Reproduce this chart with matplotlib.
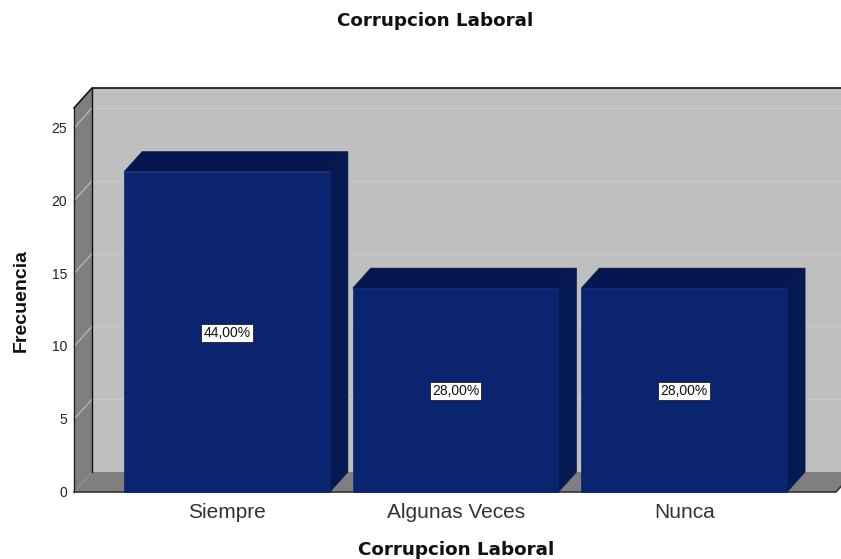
import matplotlib
matplotlib.use('Agg')
import matplotlib.pyplot as plt
from matplotlib.patches import Polygon

plt.rcParams['font.family'] = ['Liberation Sans', 'DejaVu Sans']

categories = ["Siempre", "Algunas Veces", "Nunca"]
frequency = [22, 14, 14]
percent_labels = ["44,00%", "28,00%", "28,00%"]
y_ticks = [0, 5, 10, 15, 20, 25]

W, H = 841, 559
fig = plt.figure(figsize=(W / 100, H / 100), dpi=100)

# axes box in pixels: front plane of the 3D box
left, right, bottom, top = 74, 841, 492, 108
ax = fig.add_axes([left / W, 1 - bottom / H, (right - left) / W, (bottom - top) / H])
spacing = 228.6
ax.set_xlim((left - 227) / spacing, (right - 227) / spacing)
ax.set_ylim(0, (bottom - top) / 14.56)
ax.axis('off')

# depth of the box, in data units
dx = 18 / spacing
dy = 20 / 14.56
x0, x1 = ax.get_xlim()
y1 = ax.get_ylim()[1]
x_floor_end = x0 + (836 - left) / spacing


def poly(points, color, z=1, edge='none', lw=0):
    ax.add_patch(Polygon(points, closed=True, facecolor=color, edgecolor=edge,
                         linewidth=lw, zorder=z, clip_on=False))


# back wall, left wall, floor
poly([(x0 + dx, dy), (x1 + dx, dy), (x1 + dx, y1 + dy), (x0 + dx, y1 + dy)], '#bfbfbf', 1)
poly([(x0, 0), (x0 + dx, dy), (x0 + dx, y1 + dy), (x0, y1)], '#7f7f7f', 1)
poly([(x0, 0), (x_floor_end, 0), (x_floor_end + dx, dy), (x0 + dx, dy)], '#7f7f7f', 2)

# grid lines
for t in y_ticks[1:]:
    ax.plot([x0, x0 + dx], [t, t + dy], color='#b4b4b4', lw=1, zorder=1.5, clip_on=False)
    ax.plot([x0 + dx, x1], [t + dy, t + dy], color='#c9c9c9', lw=1, zorder=1.5, clip_on=False)

# box outline
ax.plot([x0, x0 + dx, x1], [y1, y1 + dy, y1 + dy], color='#111111', lw=1.2, zorder=3, clip_on=False)
ax.plot([x0, x0], [0, y1], color='#222222', lw=1, zorder=3, clip_on=False)
ax.plot([x0 + dx, x0 + dx], [dy, y1 + dy], color='#111111', lw=1, zorder=3, clip_on=False)
ax.plot([x0, x_floor_end, x_floor_end + dx], [0, 0, dy], color='#333333', lw=1.2, zorder=3, clip_on=False)

# bars
bar_width = 0.9
bar_color = '#0a2470'
top_color = '#06174f'
side_color = '#041a50'
positions = list(range(len(categories)))
ax.bar(positions, frequency, width=bar_width, color=bar_color, edgecolor=bar_color, linewidth=0.5,
       zorder=6, clip_on=False)
for i, v in enumerate(frequency):
    a = i - bar_width / 2
    b = i + bar_width / 2
    poly([(a, v), (b, v), (b + dx, v + dy), (a + dx, v + dy)], top_color, 5, edge=top_color, lw=0.5)
    poly([(b, 0), (b + dx, dy), (b + dx, v + dy), (b, v)], side_color, 5, edge=side_color, lw=0.5)
    ax.annotate(percent_labels[i], xy=(i, v / 2), xytext=(0, -1), textcoords='offset pixels',
                ha='center', va='center', fontsize=10, color='#111111', zorder=7,
                bbox=dict(facecolor='white', edgecolor='#222222', linewidth=0.6, boxstyle='square,pad=0.15'))

# tick labels
for t in y_ticks:
    ax.annotate(str(t), xy=(x0, t), xytext=(-7, -1), textcoords='offset pixels', ha='right', va='center',
                fontsize=10, color='#222222', annotation_clip=False)
for i, name in enumerate(categories):
    ax.annotate(name, xy=(i, 0), xytext=(0, -21), textcoords='offset pixels', ha='center', va='center',
                fontsize=15, color='#333333', annotation_clip=False)

# titles
title_font = ['DejaVu Sans']
fig.text(435 / W, 1 - 21 / H, "Corrupcion Laboral", ha='center', va='center', fontsize=13.2, fontweight='bold',
         color='#111111', family=title_font)
fig.text(456 / W, 1 - 550 / H, "Corrupcion Laboral", ha='center', va='center', fontsize=13.2, fontweight='bold',
         color='#111111', family=title_font)
fig.text(21 / W, 1 - 300 / H, "Frecuencia", ha='center', va='center', rotation=90, fontsize=14, fontweight='bold',
         color='#111111')

fig.savefig('out.png', dpi=100)
